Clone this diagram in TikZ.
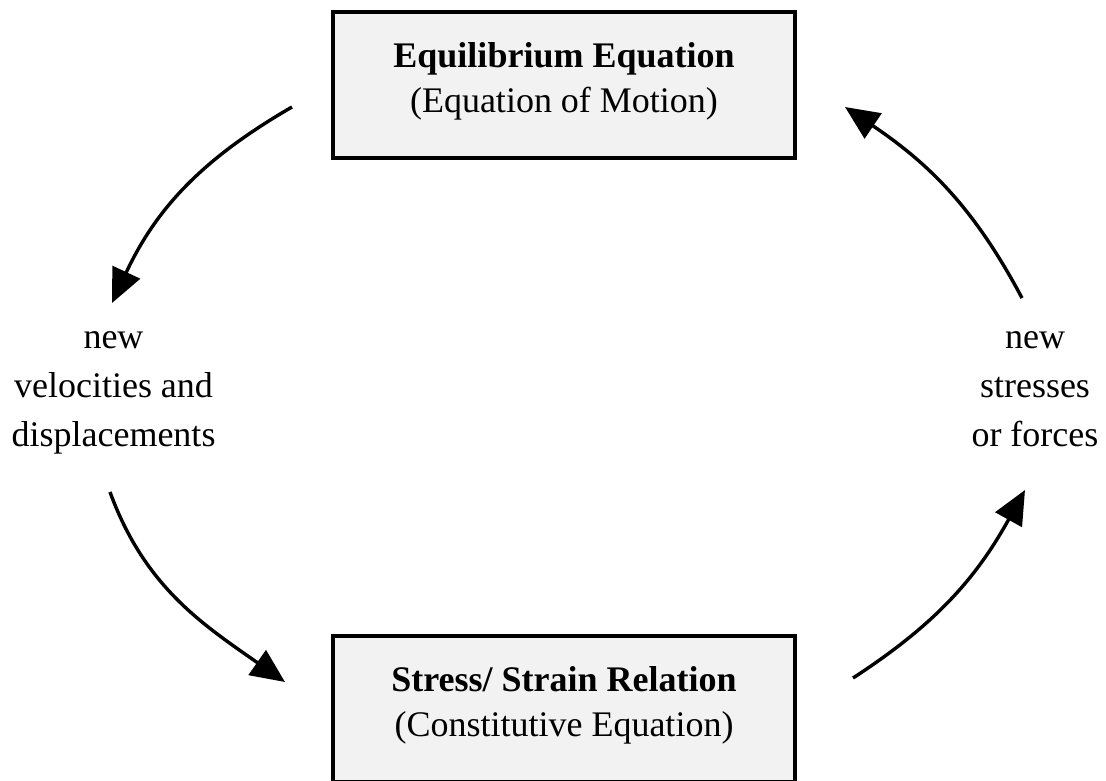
\documentclass[tikz,border=0pt]{standalone}
\usepackage{fontspec}
\setmainfont{Liberation Serif}
\usetikzlibrary{arrows.meta}
\definecolor{boxgray}{HTML}{F2F2F2}
\begin{document}
\begin{tikzpicture}[x=1pt,y=1pt,
  eqbox/.style={draw=black, line width=3.8pt, fill=boxgray,
    minimum width=462.5pt, minimum height=146.5pt, inner sep=0pt,
    align=center, text depth=15pt, font=\fontsize{36}{45}\selectfont},
  sidetext/.style={align=center, inner sep=0pt, anchor=base,
    font=\fontsize{36}{49}\selectfont},
  flow/.style={line width=3.4pt, -{Triangle[length=34pt,width=30pt]}}
]
\useasboundingbox (0,0) rectangle (1106,780);
\node[eqbox] (top) at (564,695) {\textbf{Equilibrium Equation}\\(Equation of Motion)};
\node[eqbox] (bot) at (564,71) {\textbf{Stress/ Strain Relation}\\(Constitutive Equation)};
\node[sidetext] (left) at (113.5,333) {new\\velocities and\\displacements};
\node[sidetext] (right) at (1035,333) {new\\stresses\\or forces};
\coordinate (a1s) at (292,673);
\coordinate (a1e) at (112,477);
\coordinate (a2s) at (1022,482);
\coordinate (a2e) at (845,673);
\coordinate (a3s) at (110,288);
\coordinate (a3e) at (285,98);
\coordinate (a4s) at (853,102);
\coordinate (a4e) at (1025,290);
\draw[flow] (a1s) to[out=210,in=65] (a1e);
\draw[flow] (a2s) to[out=118,in=-34] (a2e);
\draw[flow] (a3s) to[out=-70,in=145] (a3e);
\draw[flow] (a4s) to[out=33,in=-119] (a4e);
\end{tikzpicture}
\end{document}
